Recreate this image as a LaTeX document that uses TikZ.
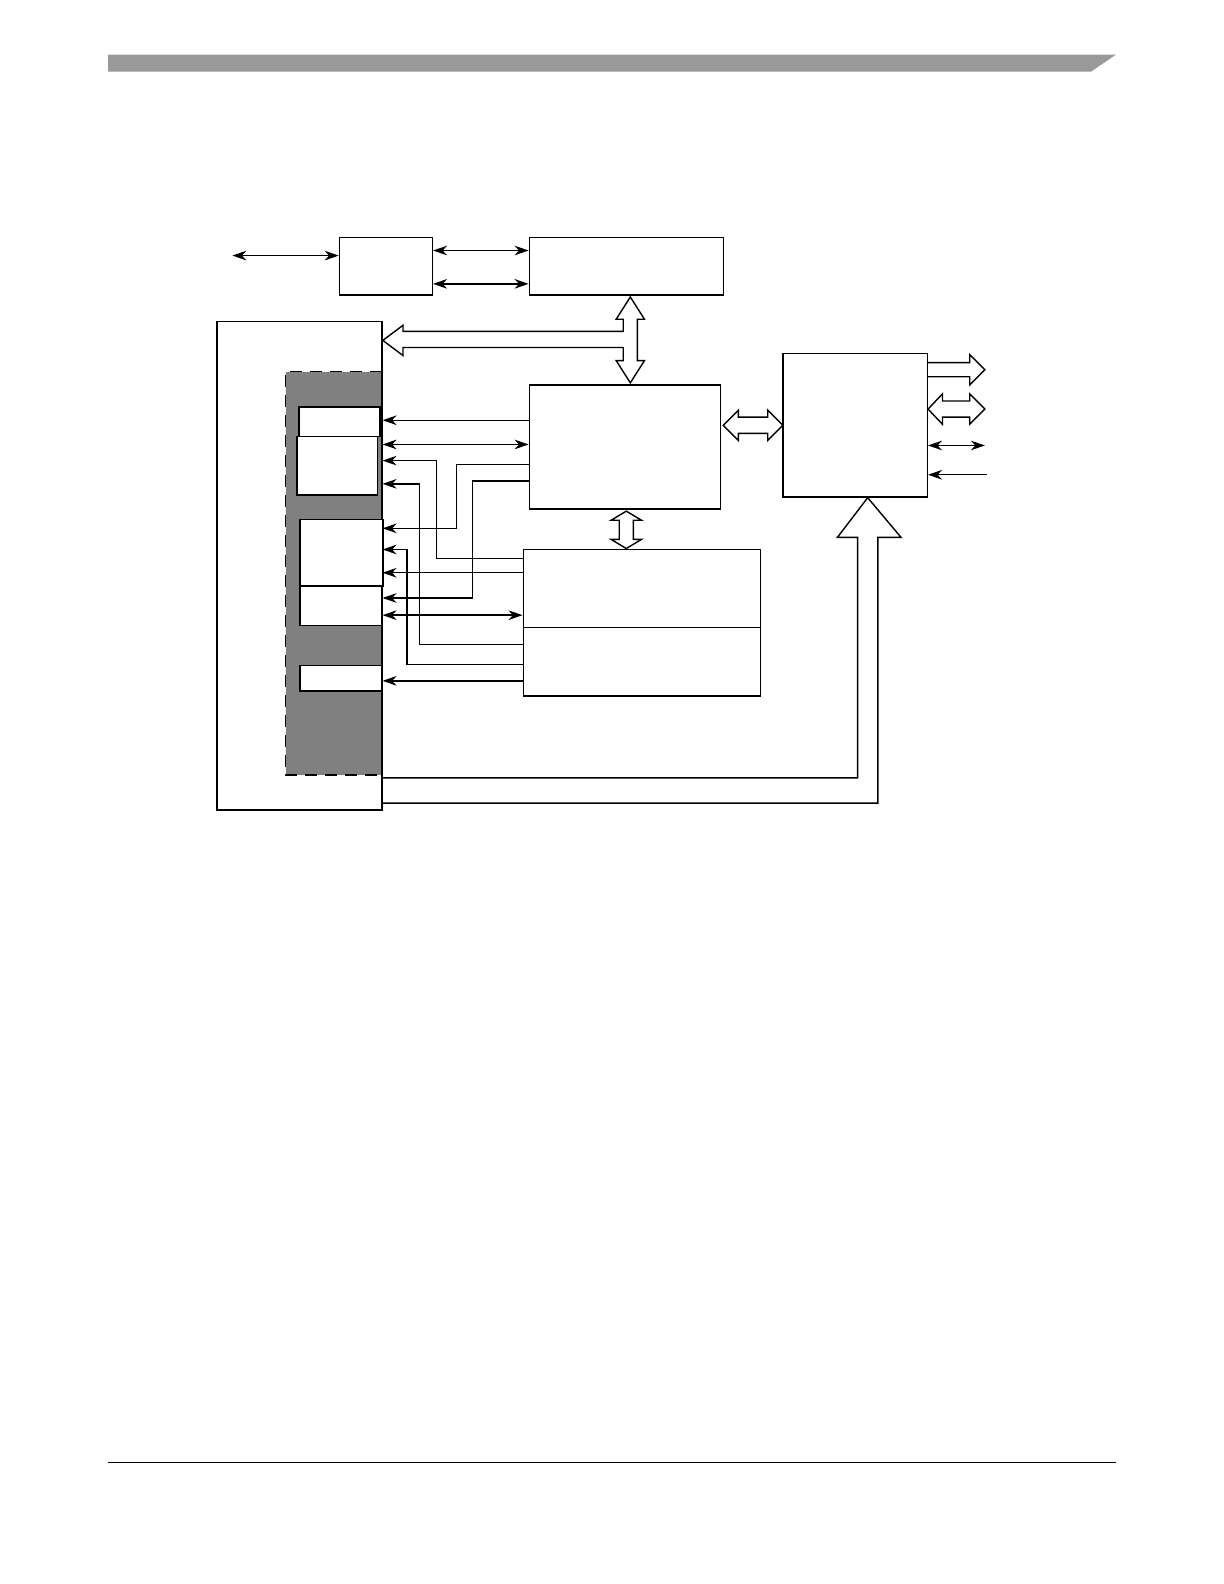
\documentclass[tikz,border=0pt]{standalone}
\usepackage{amsmath}
\usetikzlibrary{arrows.meta,fit}
\tikzset{
  blk/.style={draw, line width=1pt, inner sep=0pt, fill=white},
  wire/.style={line width=1pt, >={Stealth[length=3.5mm,width=2.4mm,inset=1.1mm]}},
  hollow/.style={draw, line width=1pt, fill=white, line join=miter},
}

\begin{document}
\begin{tikzpicture}[x=0.02526cm,y=-0.02526cm]
    \fill[white] (0,0) rectangle (30.6cm,-39.6cm);
    \useasboundingbox (0,0) rectangle (30.6cm,-39.6cm);

    \fill[black!40] (107,54) -- (1105,54) -- (1080,71) -- (107,71) -- cycle;
    \draw[line width=1pt] (107,1448) -- (1105,1448);

    \node[blk, fit={(336,235) (428,292)}] (A) {};
    \node[blk, fit={(524,235) (716,292)}] (B) {};
    \node[blk, fit={(524,381) (713,504)}] (C) {};
    \node[blk, fit={(518,544) (753,689)}] (D) {};
    \draw[line width=1pt] (D.west |- 0,621) -- (D.east |- 0,621);
    \node[blk, fit={(775,350) (918,492)}] (E) {};

    \node[fill=black!50, inner sep=0pt, fit={(283,368) (378,767)}] (G) {};
    \node[blk, fill=none, fit={(215,318) (378,802)}] (L) {};
    \draw[line width=1pt, dash pattern=on 3mm off 2mm] (G.north east) -- (G.north west) -- (G.south west) -- (G.south east);

    \node[blk, fit={(296,403) (376,432)}] (b1) {};
    \node[blk, fit={(294,432) (374,490)}] (b2) {};
    \node[blk, fit={(297,514) (379,580)}] (b3) {};
    \node[blk, fit={(297,580) (378,619)}] (b4) {};
    \node[blk, fit={(297,659) (378,684)}] (b5) {};

    \coordinate (ext) at (230,253);
    \draw[wire,<->] (ext) -- (A.west |- ext);
    \draw[wire,<->] (A.east |- 0,248) -- (B.west |- 0,248);
    \draw[wire,<->] (A.east |- 0,281) -- (B.west |- 0,281);

    \draw[wire,<-] (L.east |- 0,416) -- (C.west |- 0,416);
    \draw[wire,<->] (L.east |- 0,440) -- (C.west |- 0,440);
    \draw[wire,<-] (L.east |- 0,456) -- (432,456) -- (432,553) -- (D.west |- 0,553);
    \draw[wire,<-] (L.east |- 0,523) -- (452,523) -- (452,460) -- (C.west |- 0,460);
    \draw[wire,<-] (L.east |- 0,592) -- (468,592) -- (468,476) -- (C.west |- 0,476);
    \draw[wire,<-] (L.east |- 0,479) -- (415,479) -- (415,638) -- (D.west |- 0,638);
    \draw[wire,<-] (L.east |- 0,544) -- (403,544) -- (403,658) -- (D.west |- 0,658);
    \draw[wire,<-] (L.east |- 0,567) -- (D.west |- 0,567);
    \draw[wire,<->] (L.east |- 0,609) -- (D.west |- 0,609);
    \draw[wire,<-] (L.east |- 0,674) -- (D.west |- 0,674);

    \draw[hollow] (624,294) -- (638,316) -- (631,316) -- (631,357) -- (638,357) -- (624,379) -- (610,357) -- (617,357) -- (617,344) -- (399,344) -- (399,352) -- (379,337) -- (399,322) -- (399,328) -- (617,328) -- (617,316) -- (610,316) -- cycle;
    \draw[hollow] (716,421) -- (731,406) -- (731,413) -- (760,413) -- (760,406) -- (775,421) -- (760,436) -- (760,429) -- (731,429) -- (731,436) -- cycle;
    \draw[hollow] (620,506) -- (635,515) -- (627,515) -- (627,534) -- (635,534) -- (620,543) -- (605,534) -- (613,534) -- (613,515) -- (605,515) -- cycle;

    \draw[hollow] (E.east |- 0,359) -- (960,359) -- (960,351) -- (975,366) -- (960,381) -- (960,373) -- (E.east |- 0,373);
    \draw[hollow] (E.east |- 0,405) -- (933,390) -- (933,397) -- (960,397) -- (960,390) -- (975,405) -- (960,420) -- (960,413) -- (933,413) -- (933,420) -- cycle;
    \coordinate (o3) at (975,441);
    \coordinate (o4) at (977,470);
    \draw[wire,<->] (E.east |- o3) -- (o3);
    \draw[wire,<-] (E.east |- o4) -- (o4);

    \draw[line width=1pt, line join=miter] (L.east |- 0,770) -- (849,770) -- (849,532) -- (829,532) -- (E.south -| 859,0) -- (892,532) -- (869,532) -- (869,795) -- (L.east |- 0,795);

\end{tikzpicture}
\end{document}
